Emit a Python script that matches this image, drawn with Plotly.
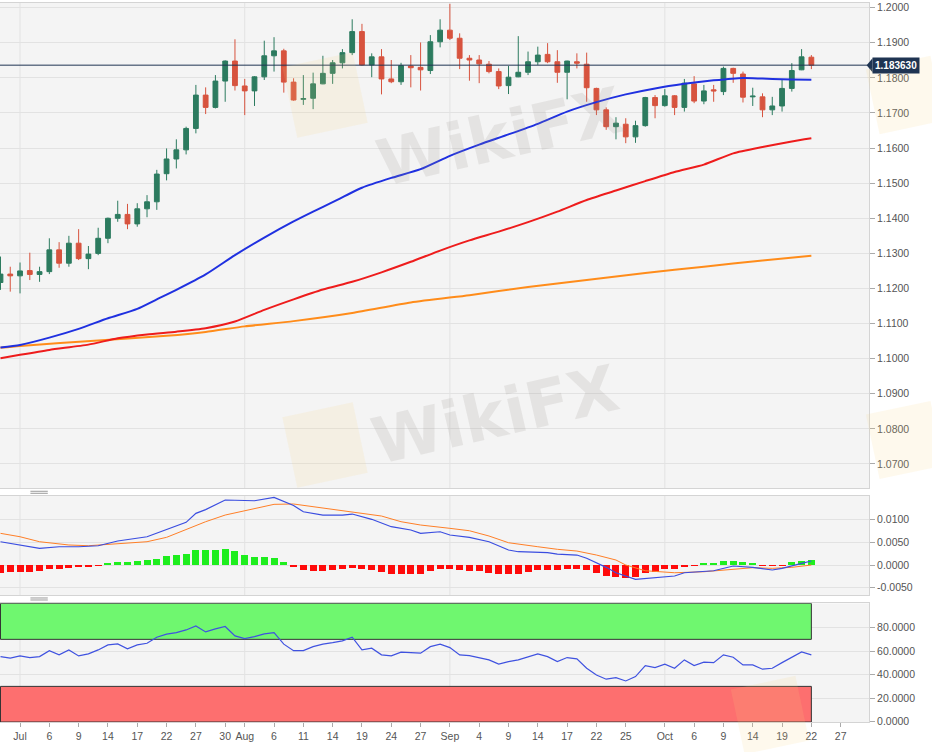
import math
import pandas as pd
import plotly.graph_objects as go
from plotly.subplots import make_subplots

# trading days on the chart (weekends skipped), plus the empty days on the right
dates = [d.strftime("%Y-%m-%d") for d in pd.bdate_range("2020-06-29", "2020-10-22")]
future_dates = ["2020-10-23", "2020-10-26", "2020-10-27", "2020-10-28", "2020-10-29"]

opens = [1.1217, 1.1241, 1.1236, 1.1251, 1.1240, 1.1248, 1.1310, 1.1272, 1.1329, 1.1285,
         1.1300, 1.1343, 1.1400, 1.1411, 1.1384, 1.1427, 1.1447, 1.1527, 1.1569, 1.1595,
         1.1656, 1.1751, 1.1716, 1.1791, 1.1848, 1.1777, 1.1763, 1.1803, 1.1863, 1.1877,
         1.1788, 1.1739, 1.1742, 1.1783, 1.1813, 1.1843, 1.1872, 1.1932, 1.1837, 1.1860,
         1.1797, 1.1789, 1.1834, 1.1830, 1.1821, 1.1903, 1.1936, 1.1913, 1.1856, 1.1851,
         1.1839, 1.1818, 1.1778, 1.1803, 1.1816, 1.1846, 1.1867, 1.1846, 1.1816, 1.1846,
         1.1839, 1.1770, 1.1709, 1.1661, 1.1668, 1.1632, 1.1664, 1.1744, 1.1721, 1.1749,
         1.1716, 1.1783, 1.1734, 1.1766, 1.1761, 1.1827, 1.1811, 1.1746, 1.1746, 1.1709,
         1.1720, 1.1770, 1.1823, 1.1859]
highs = [1.1291, 1.1262, 1.1274, 1.1302, 1.1262, 1.1343, 1.1332, 1.1350, 1.1369, 1.1321,
         1.1373, 1.1402, 1.1450, 1.1441, 1.1443, 1.1466, 1.1538, 1.1599, 1.1625, 1.1661,
         1.1780, 1.1773, 1.1808, 1.1850, 1.1910, 1.1797, 1.1805, 1.1906, 1.1916, 1.1883,
         1.1799, 1.1808, 1.1815, 1.1863, 1.1851, 1.1882, 1.1967, 1.1954, 1.1870, 1.1882,
         1.1851, 1.1843, 1.1865, 1.1901, 1.1922, 1.1967, 1.2011, 1.1927, 1.1865, 1.1865,
         1.1848, 1.1827, 1.1834, 1.1919, 1.1875, 1.1889, 1.1899, 1.1879, 1.1849, 1.1870,
         1.1872, 1.1772, 1.1716, 1.1688, 1.1685, 1.1678, 1.1746, 1.1751, 1.1768, 1.1751,
         1.1797, 1.1805, 1.1780, 1.1780, 1.1832, 1.1829, 1.1818, 1.1772, 1.1756, 1.1746,
         1.1794, 1.1842, 1.1882, 1.1865]
lows = [1.1196, 1.1191, 1.1186, 1.1224, 1.1219, 1.1241, 1.1259, 1.1262, 1.1281, 1.1255,
        1.1295, 1.1329, 1.1390, 1.1369, 1.1376, 1.1403, 1.1424, 1.1508, 1.1542, 1.1582,
        1.1642, 1.1697, 1.1713, 1.1732, 1.1764, 1.1694, 1.1720, 1.1794, 1.1818, 1.1758,
        1.1735, 1.1723, 1.1711, 1.1782, 1.1783, 1.1827, 1.1865, 1.1835, 1.1802, 1.1753,
        1.1785, 1.1780, 1.1773, 1.1764, 1.1811, 1.1887, 1.1908, 1.1825, 1.1792, 1.1785,
        1.1813, 1.1768, 1.1754, 1.1802, 1.1808, 1.1837, 1.1842, 1.1786, 1.1739, 1.1827,
        1.1732, 1.1694, 1.1652, 1.1625, 1.1614, 1.1615, 1.1661, 1.1685, 1.1718, 1.1694,
        1.1704, 1.1728, 1.1725, 1.1732, 1.1751, 1.1786, 1.1730, 1.1720, 1.1688, 1.1694,
        1.1704, 1.1761, 1.1822, 1.1825]
closes = [1.1241, 1.1236, 1.1250, 1.1240, 1.1248, 1.1310, 1.1272, 1.1329, 1.1285, 1.1298,
          1.1343, 1.1400, 1.1411, 1.1384, 1.1427, 1.1447, 1.1526, 1.1569, 1.1595, 1.1656,
          1.1751, 1.1716, 1.1791, 1.1848, 1.1778, 1.1763, 1.1803, 1.1863, 1.1877, 1.1788,
          1.1737, 1.1741, 1.1783, 1.1813, 1.1843, 1.1872, 1.1932, 1.1837, 1.1860, 1.1797,
          1.1789, 1.1835, 1.1829, 1.1823, 1.1903, 1.1936, 1.1913, 1.1856, 1.1851, 1.1840,
          1.1818, 1.1777, 1.1802, 1.1816, 1.1846, 1.1865, 1.1846, 1.1816, 1.1848, 1.1842,
          1.1772, 1.1709, 1.1661, 1.1671, 1.1632, 1.1664, 1.1744, 1.1721, 1.1749, 1.1716,
          1.1785, 1.1734, 1.1763, 1.1763, 1.1827, 1.1813, 1.1745, 1.1748, 1.1709, 1.1720,
          1.1770, 1.1821, 1.1860, 1.18363]
last_price = 1.18363

# moving averages (read at a subset of days)
ma_fast_dates = ["2020-06-29", "2020-07-01", "2020-07-06", "2020-07-09", "2020-07-14", "2020-07-17",
                 "2020-07-21", "2020-07-23", "2020-07-28", "2020-07-31", "2020-08-05", "2020-08-10",
                 "2020-08-12", "2020-08-14", "2020-08-19", "2020-08-24", "2020-08-27", "2020-09-01",
                 "2020-09-04", "2020-09-09", "2020-09-14", "2020-09-17", "2020-09-22", "2020-09-25",
                 "2020-09-30", "2020-10-05", "2020-10-08", "2020-10-13", "2020-10-15", "2020-10-19",
                 "2020-10-22"]
ma_fast = [1.1032, 1.1039, 1.1060, 1.1085, 1.1115, 1.1142, 1.1169, 1.1196, 1.1240, 1.1295,
           1.1345, 1.1391, 1.1419, 1.1446, 1.1487, 1.1515, 1.1540, 1.1578, 1.1610, 1.1639,
           1.1669, 1.1704, 1.1731, 1.1753, 1.1770, 1.1783, 1.1793, 1.1800, 1.1798, 1.1796,
           1.1795]
ma_mid_dates = ["2020-06-29", "2020-07-01", "2020-07-06", "2020-07-10", "2020-07-15", "2020-07-20",
                "2020-07-23", "2020-07-28", "2020-07-31", "2020-08-05", "2020-08-10", "2020-08-13",
                "2020-08-18", "2020-08-21", "2020-08-26", "2020-08-31", "2020-09-03", "2020-09-08",
                "2020-09-11", "2020-09-16", "2020-09-21", "2020-09-24", "2020-09-29", "2020-10-02",
                "2020-10-07", "2020-10-12", "2020-10-15", "2020-10-20", "2020-10-22"]
ma_mid = [1.1001, 1.1011, 1.1025, 1.1040, 1.1058, 1.1069, 1.1077, 1.1087, 1.1106, 1.1139,
          1.1169, 1.1197, 1.1219, 1.1246, 1.1276, 1.1308, 1.1337, 1.1362, 1.1389, 1.1419,
          1.1452, 1.1479, 1.1506, 1.1532, 1.1553, 1.1585, 1.1603, 1.1619, 1.1628]
ma_slow_dates = ["2020-06-29", "2020-07-01", "2020-07-13", "2020-07-22", "2020-07-28", "2020-08-03",
                 "2020-08-10", "2020-08-18", "2020-08-26", "2020-09-03", "2020-09-11", "2020-09-21",
                 "2020-09-29", "2020-10-07", "2020-10-15", "2020-10-22"]
ma_slow = [1.1031, 1.1036, 1.1052, 1.1065, 1.1076, 1.1092, 1.1107, 1.1130, 1.1160, 1.1181,
           1.1204, 1.1224, 1.1244, 1.1262, 1.1280, 1.1293]

# MACD panel
macd_hist = [-0.00187, -0.00158, -0.00158, -0.00150, -0.00143, -0.00099, -0.00084, -0.00055,
             -0.00048, -0.00048, -0.00011, 0.00048, 0.00070, 0.00070, 0.00084, 0.00106,
             0.00143, 0.00194, 0.00216, 0.00253, 0.00326, 0.00326, 0.00341, 0.00363,
             0.00304, 0.00231, 0.00180, 0.00180, 0.00158, 0.00070, -0.00040, -0.00114,
             -0.00136, -0.00136, -0.00114, -0.00099, -0.00062, -0.00099, -0.00114, -0.00158,
             -0.00209, -0.00209, -0.00209, -0.00194, -0.00136, -0.00084, -0.00077, -0.00114,
             -0.00136, -0.00136, -0.00172, -0.00209, -0.00209, -0.00194, -0.00158, -0.00121,
             -0.00114, -0.00114, -0.00099, -0.00099, -0.00114, -0.00187, -0.00246, -0.00260,
             -0.00282, -0.00268, -0.00187, -0.00150, -0.00099, -0.00077, -0.00026, -0.00015,
             0.00026, 0.00033, 0.00084, 0.00099, 0.00062, 0.00048, -0.00018, -0.00010,
             -0.00010, 0.00062, 0.00099, 0.00121]
macd_dates = ["2020-06-29", "2020-07-01", "2020-07-03", "2020-07-07", "2020-07-09", "2020-07-13",
              "2020-07-15", "2020-07-20", "2020-07-22", "2020-07-24", "2020-07-27", "2020-07-28",
              "2020-07-30", "2020-07-31", "2020-08-04", "2020-08-06", "2020-08-10", "2020-08-11",
              "2020-08-13", "2020-08-17", "2020-08-18", "2020-08-20", "2020-08-24", "2020-08-26",
              "2020-08-27", "2020-08-31", "2020-09-01", "2020-09-03", "2020-09-07", "2020-09-09",
              "2020-09-10", "2020-09-15", "2020-09-16", "2020-09-18", "2020-09-21", "2020-09-23",
              "2020-09-24", "2020-09-28", "2020-09-30", "2020-10-02", "2020-10-05", "2020-10-08",
              "2020-10-12", "2020-10-13", "2020-10-14", "2020-10-16", "2020-10-19", "2020-10-21",
              "2020-10-22"]
macd_line = [0.00513, 0.00441, 0.00368, 0.00403, 0.00403, 0.00425, 0.00529, 0.00623, 0.00786,
             0.00940, 0.01139, 0.01220, 0.01432, 0.01432, 0.01416, 0.01491, 0.01310, 0.01174,
             0.01101, 0.01101, 0.01123, 0.01007, 0.00844, 0.00771, 0.00698, 0.00733, 0.00661,
             0.00610, 0.00513, 0.00330, 0.00293, 0.00271, 0.00242, 0.00220, 0.00148, -0.00051,
             -0.00170, -0.00315, -0.00280, -0.00242, -0.00170, -0.00126, -0.00022, -0.00037,
             -0.00051, -0.00110, -0.00073, 0.00037, 0.00088]
signal_dates = ["2020-06-29", "2020-07-01", "2020-07-03", "2020-07-08", "2020-07-10", "2020-07-15",
                "2020-07-20", "2020-07-22", "2020-07-24", "2020-07-28", "2020-07-30", "2020-08-04",
                "2020-08-06", "2020-08-10", "2020-08-12", "2020-08-17", "2020-08-19", "2020-08-21",
                "2020-08-25", "2020-08-27", "2020-09-01", "2020-09-03", "2020-09-07", "2020-09-09",
                "2020-09-14", "2020-09-16", "2020-09-18", "2020-09-22", "2020-09-24", "2020-09-25",
                "2020-09-29", "2020-10-02", "2020-10-07", "2020-10-12", "2020-10-14", "2020-10-16",
                "2020-10-20", "2020-10-22"]
signal_line = [0.00698, 0.00623, 0.00513, 0.00441, 0.00425, 0.00463, 0.00513, 0.00610, 0.00786,
               0.00954, 0.01101, 0.01249, 0.01337, 0.01344, 0.01284, 0.01190, 0.01145, 0.01079,
               0.00954, 0.00881, 0.00808, 0.00755, 0.00639, 0.00491, 0.00403, 0.00346, 0.00308,
               0.00220, 0.00110, 0.00000, -0.00126, -0.00170, -0.00148, -0.00095, -0.00059,
               -0.00073, -0.00051, 0.00000]

# RSI panel
rsi = [55.3, 54.0, 55.9, 54.5, 55.3, 60.4, 56.8, 61.0, 55.9, 57.6, 61.0, 65.3,
       66.1, 61.9, 65.3, 66.7, 71.8, 74.4, 75.7, 78.0, 81.4, 76.3, 78.9, 80.9,
       72.9, 70.6, 72.3, 74.6, 75.7, 65.9, 60.4, 60.4, 63.8, 65.9, 67.2, 68.7,
       71.8, 61.0, 62.5, 56.8, 55.9, 59.1, 58.7, 58.2, 63.8, 65.9, 63.0, 56.8,
       56.2, 54.5, 52.5, 48.9, 51.1, 52.5, 55.3, 57.6, 55.3, 51.1, 54.5, 53.4,
       45.4, 39.7, 36.1, 37.4, 34.6, 38.3, 47.7, 46.0, 48.9, 45.4, 52.5, 47.7,
       50.6, 50.2, 56.8, 54.8, 48.3, 48.3, 44.6, 45.4, 50.2, 54.8, 59.3, 56.8]
rsi_upper = 70
rsi_lower = 30

tick_dates = ["2020-07-01", "2020-07-06", "2020-07-09", "2020-07-14", "2020-07-17", "2020-07-22",
              "2020-07-27", "2020-07-30", "2020-08-03", "2020-08-06", "2020-08-11", "2020-08-14",
              "2020-08-19", "2020-08-24", "2020-08-27", "2020-09-01", "2020-09-04", "2020-09-09",
              "2020-09-14", "2020-09-17", "2020-09-22", "2020-09-25", "2020-10-01", "2020-10-06",
              "2020-10-09", "2020-10-14", "2020-10-19", "2020-10-22", "2020-10-27"]
tick_text = ["Jul", "6", "9", "14", "17", "22", "27", "30", "Aug", "6", "11", "14", "19", "24",
             "27", "Sep", "4", "9", "14", "17", "22", "25", "Oct", "6", "9", "14", "19", "22", "27"]
month_starts = ["2020-07-01", "2020-08-03", "2020-09-01", "2020-10-01"]

W, H = 932, 752
ML, MR, MT, MB = 0, 63, 3, 30
up_col = "#2c7b5f"
down_col = "#d7533e"
grid_col = "#e2e2e2"
border_col = "#d4d4d4"
font_fam = "Liberation Sans, Arial, sans-serif"


def px_to_paper(x, y):
    return x / (W - ML - MR), (H - MB - y) / (H - MT - MB)


def tile_path(cx, cy, size, angle):
    # tilted square used for the faint logo tiles of the watermark
    pts = []
    for k in range(4):
        a = math.radians(angle + 45 + 90 * k)
        px, py = px_to_paper(cx + size * 0.707 * math.cos(a), cy + size * 0.707 * math.sin(a))
        pts.append(f"{px:.4f},{py:.4f}")
    return "M " + " L ".join(pts) + " Z"


fig = make_subplots(rows=3, cols=1, shared_xaxes=True, vertical_spacing=0.01)

fig.add_trace(go.Candlestick(
    x=dates, open=opens, high=highs, low=lows, close=closes,
    increasing=dict(line=dict(color=up_col, width=1), fillcolor=up_col),
    decreasing=dict(line=dict(color=down_col, width=1), fillcolor=down_col),
    whiskerwidth=0, showlegend=False, hoverinfo="skip"), row=1, col=1)

for xs, ys, col in [(ma_slow_dates, ma_slow, "#ff8c1a"),
                    (ma_mid_dates, ma_mid, "#ee1c1c"),
                    (ma_fast_dates, ma_fast, "#1f30e0")]:
    fig.add_trace(go.Scatter(x=xs, y=ys, mode="lines", showlegend=False, hoverinfo="skip",
                             line=dict(color=col, width=2, shape="spline", smoothing=0.6)),
                  row=1, col=1)

hist_cols = ["#1eee1e" if v >= 0 else "#ff0a0a" for v in macd_hist]
fig.add_trace(go.Bar(x=dates, y=macd_hist, marker=dict(color=hist_cols, line=dict(width=0)),
                     width=0.72, showlegend=False, hoverinfo="skip"), row=2, col=1)
fig.add_trace(go.Scatter(x=signal_dates, y=signal_line, mode="lines", showlegend=False,
                         hoverinfo="skip", line=dict(color="#ff7f27", width=1)), row=2, col=1)
fig.add_trace(go.Scatter(x=macd_dates, y=macd_line, mode="lines", showlegend=False,
                         hoverinfo="skip", line=dict(color="#3a4de0", width=1.2)), row=2, col=1)

fig.add_trace(go.Scatter(x=dates, y=rsi, mode="lines", showlegend=False, hoverinfo="skip",
                         line=dict(color="#3f52e0", width=1.2)), row=3, col=1)

# RSI zones
fig.add_shape(type="rect", xref="x3", yref="y3", x0=dates[0], x1=dates[-1], y0=rsi_upper, y1=100.6,
              fillcolor="#6ff76f", line=dict(color="#333333", width=1), layer="between")
fig.add_shape(type="rect", xref="x3", yref="y3", x0=dates[0], x1=dates[-1], y0=-0.3, y1=rsi_lower,
              fillcolor="#fd6f6f", line=dict(color="#333333", width=1), layer="between")

# month grid lines
for n, ax in enumerate(["x", "x2", "x3"]):
    yd = ["y domain", "y2 domain", "y3 domain"][n]
    for m in month_starts:
        fig.add_shape(type="line", xref=ax, yref=yd, x0=m, x1=m, y0=0, y1=1,
                      line=dict(color=grid_col, width=1), layer="below")

# last price line and tag
fig.add_shape(type="line", xref="paper", yref="y", x0=0, x1=1, y0=last_price, y1=last_price,
              line=dict(color="#1f3452", width=1))
fig.add_shape(type="path", xref="paper", yref="y", fillcolor="#1f3452", line=dict(width=0),
              path="M 0.9973 1.18363 L 1.0040 1.18563 L 1.0040 1.18163 Z")
fig.add_annotation(x=1.0036, xref="paper", y=last_price, yref="y", xanchor="left", yanchor="middle",
                   text="<b>1.183630</b>", showarrow=False, bgcolor="#1f3452", borderpad=2,
                   font=dict(color="white", size=10, family=font_fam))

# panel handles
for yp in [0.3209, 0.3181, 0.1725, 0.1697]:
    fig.add_shape(type="line", xref="paper", yref="paper", x0=0.035, x1=0.055, y0=yp, y1=yp,
                  line=dict(color="#9a9a9a", width=1))

# watermarks
for cx, cy, sz in [(325, 445, 72), (325, 95, 72), (905, 440, 66), (905, 95, 66), (770, 715, 66)]:
    fig.add_shape(type="path", xref="paper", yref="paper", path=tile_path(cx, cy, sz, -12),
                  fillcolor="rgba(246,214,130,0.14)", line=dict(width=0), layer="above")
for wx, wy in [(500, 70), (495, 415)]:
    px, py = px_to_paper(wx, wy)
    fig.add_annotation(x=px, y=py, xref="paper", yref="paper", text="<b>WikiFX</b>", showarrow=False,
                       textangle=-13, font=dict(size=64, color="rgba(150,140,135,0.16)",
                                                family="DejaVu Sans"))

fig.update_xaxes(type="category", categoryorder="array", categoryarray=dates + future_dates,
                 range=[-0.05, 88.9], rangeslider_visible=False, showgrid=False,
                 showline=True, mirror=True, linecolor=border_col,
                 tickmode="array", tickvals=tick_dates, ticktext=tick_text)
fig.update_xaxes(ticks="outside", ticklen=4, tickcolor="#aaaaaa", row=3, col=1)

yax = dict(side="right", showgrid=True, gridcolor=grid_col, showline=True, mirror=True,
           linecolor=border_col, ticks="outside", ticklen=5, tickcolor="#aaaaaa", zeroline=False)
fig.update_yaxes(**yax)
fig.update_yaxes(domain=[0.3255, 1.0], range=[1.06316, 1.20134], dtick=0.01, tickformat=".4f",
                 row=1, col=1)
fig.update_yaxes(domain=[0.1766, 0.3143], range=[-0.00661, 0.0152],
                 tickvals=[-0.005, 0, 0.005, 0.01],
                 ticktext=["-0.0050", "0.0000", "0.0050", "0.0100"], row=2, col=1)
fig.update_yaxes(domain=[0.0, 0.165], range=[-0.3, 100.6], tickvals=[0, 20, 40, 60, 80],
                 tickformat=".4f", row=3, col=1)

fig.update_layout(
    width=W, height=H,
    margin=dict(l=ML, r=MR, t=MT, b=MB, autoexpand=False),
    paper_bgcolor="white", plot_bgcolor="#f4f4f4",
    font=dict(family=font_fam, size=10.5, color="#555555"),
    bargap=0, showlegend=False,
)

# the page body has a default 8px margin; drop it so the chart sits at the window corner
fig.write_html("out.html", config={"displayModeBar": False},
               post_script="document.body.style.margin='0';")
